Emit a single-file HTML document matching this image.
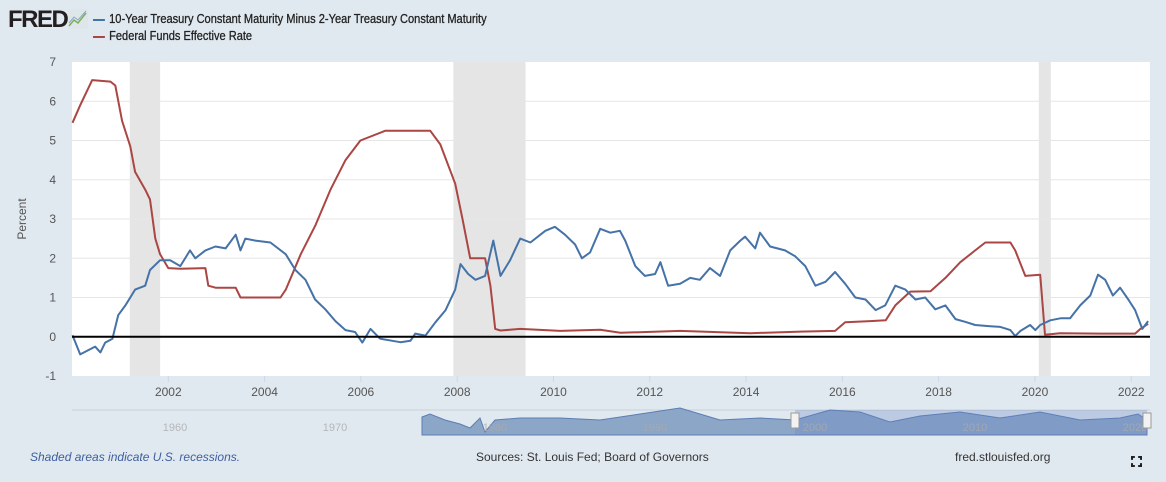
<!DOCTYPE html>
<html><head><meta charset="utf-8"><style>
body{margin:0;background:#e1e9f0;font-family:"Liberation Sans",sans-serif;}
#wrap{position:relative;width:1166px;height:482px;overflow:hidden;background:#e1e9f0}
.t{position:absolute;white-space:nowrap}
.lg{transform-origin:0 0;transform:scaleX(0.85);font-size:13px;color:#222;-webkit-text-stroke:0.3px #222}
</style></head><body>
<div id="wrap">
<div class="t" style="left:8px;top:6px;font:bold 24px 'Liberation Sans',sans-serif;color:#231f20;letter-spacing:-1.5px">FRED</div>
<svg style="position:absolute;left:68px;top:9px" width="20" height="20"><rect width="20" height="20" fill="#dfe6ea"/><polyline points="1,17 6,11 10,14 18,4" fill="none" stroke="#7ab05a" stroke-width="1.5"/><polyline points="1,14 6,8 10,11 18,2" fill="none" stroke="#8aa6c8" stroke-width="1"/></svg>
<div class="t lg" style="left:93px;top:11px"><span style="display:inline-block;width:14px;height:2px;background:#4572a7;vertical-align:middle;margin-right:5px"></span>10-Year Treasury Constant Maturity Minus 2-Year Treasury Constant Maturity</div>
<div class="t lg" style="left:93px;top:28px"><span style="display:inline-block;width:14px;height:2px;background:#aa4643;vertical-align:middle;margin-right:5px"></span>Federal Funds Effective Rate</div>
<svg id="chart" width="1166" height="482" style="position:absolute;left:0;top:0"></svg>
<div class="t" style="left:30px;top:450px;font-size:12px;font-style:italic;color:#3e5f9e">Shaded areas indicate U.S. recessions.</div>
<div class="t" style="left:476px;top:450px;font-size:12px;color:#333">Sources: St. Louis Fed; Board of Governors</div>
<div class="t" style="left:955px;top:450px;font-size:12px;color:#333">fred.stlouisfed.org</div>
<div class="t" style="left:1131px;top:456px;width:11px;height:11px;border:2px solid #222;box-sizing:border-box;clip-path:polygon(0 0,35% 0,35% 35%,65% 35%,65% 0,100% 0,100% 35%,65% 35%,65% 65%,100% 65%,100% 100%,65% 100%,65% 65%,35% 65%,35% 100%,0 100%,0 65%,35% 65%,35% 35%,0 35%)"></div>
</div>
<script>
const yTicks=[-1,0,1,2,3,4,5,6,7];
const xTicks=[2002,2004,2006,2008,2010,2012,2014,2016,2018,2020,2022];
const recessions=[[2001.2,2001.83],[2007.92,2009.42],[2020.08,2020.33]];
const ffDates=[2000.01,2000.17,2000.42,2000.80,2000.90,2001.04,2001.21,2001.31,2001.52,2001.62,2001.73,2001.83,2002.00,2002.25,2002.77,2002.83,2002.98,2003.40,2003.50,2004.33,2004.44,2004.75,2005.06,2005.37,2005.68,2005.99,2006.51,2007.44,2007.65,2007.96,2008.11,2008.27,2008.58,2008.69,2008.79,2008.90,2009.31,2010.14,2010.97,2011.39,2012.63,2014.09,2015.13,2015.85,2016.06,2016.58,2016.90,2017.10,2017.41,2017.83,2018.14,2018.45,2018.76,2018.97,2019.49,2019.59,2019.80,2020.11,2020.21,2020.52,2021.36,2022.08,2022.19,2022.35];
const ffValues=[5.45,5.9,6.54,6.5,6.4,5.5,4.85,4.2,3.75,3.5,2.5,2.1,1.75,1.73,1.75,1.3,1.25,1.25,1.0,1.0,1.2,2.1,2.85,3.75,4.5,5.0,5.25,5.25,4.9,3.9,3.0,2.0,2.0,1.3,0.2,0.16,0.2,0.15,0.18,0.1,0.15,0.09,0.13,0.15,0.37,0.4,0.42,0.8,1.15,1.16,1.5,1.9,2.2,2.4,2.4,2.2,1.55,1.58,0.05,0.09,0.08,0.08,0.2,0.33];
const spDates=[2000.01,2000.17,2000.48,2000.59,2000.69,2000.84,2000.96,2001.11,2001.31,2001.52,2001.62,2001.83,2002.04,2002.25,2002.45,2002.56,2002.77,2002.98,2003.19,2003.40,2003.50,2003.60,2003.81,2004.12,2004.44,2004.64,2004.85,2005.05,2005.26,2005.47,2005.68,2005.88,2006.03,2006.20,2006.40,2006.82,2007.03,2007.13,2007.34,2007.55,2007.76,2007.96,2008.07,2008.23,2008.38,2008.58,2008.75,2008.90,2009.10,2009.31,2009.52,2009.83,2010.03,2010.24,2010.45,2010.59,2010.76,2010.97,2011.18,2011.38,2011.49,2011.70,2011.90,2012.11,2012.22,2012.38,2012.63,2012.84,2013.04,2013.25,2013.46,2013.67,2013.88,2013.98,2014.19,2014.29,2014.50,2014.81,2015.02,2015.23,2015.44,2015.65,2015.85,2016.06,2016.27,2016.48,2016.69,2016.89,2017.10,2017.31,2017.52,2017.72,2017.93,2018.14,2018.35,2018.55,2018.76,2019.07,2019.28,2019.49,2019.59,2019.70,2019.90,2020.01,2020.11,2020.32,2020.53,2020.73,2020.94,2021.15,2021.31,2021.46,2021.62,2021.77,2021.94,2022.08,2022.23,2022.35];
const spValues=[0.04,-0.45,-0.25,-0.4,-0.15,-0.05,0.55,0.8,1.2,1.3,1.7,1.95,1.95,1.8,2.2,2.0,2.2,2.3,2.25,2.6,2.2,2.5,2.45,2.4,2.1,1.7,1.45,0.95,0.7,0.4,0.17,0.12,-0.15,0.2,-0.05,-0.14,-0.1,0.08,0.03,0.37,0.68,1.2,1.85,1.6,1.45,1.55,2.45,1.55,1.95,2.5,2.4,2.7,2.8,2.6,2.35,2.0,2.15,2.75,2.65,2.7,2.45,1.8,1.55,1.6,1.9,1.3,1.35,1.5,1.45,1.75,1.55,2.2,2.45,2.55,2.25,2.65,2.3,2.2,2.05,1.8,1.3,1.4,1.65,1.35,1.0,0.95,0.68,0.8,1.3,1.2,0.95,1.0,0.7,0.8,0.45,0.38,0.3,0.27,0.25,0.17,0.02,0.15,0.3,0.17,0.3,0.42,0.47,0.47,0.8,1.05,1.58,1.45,1.05,1.25,0.95,0.68,0.2,0.4];
const navTicks=[1960,1970,1980,1990,2000,2010,2020];

const NS="http://www.w3.org/2000/svg";
const svg=document.getElementById('chart');
const L=72,R=1150,T=62,B=376,X0=2000,X1=2022.39;
const x=d=>L+(d-X0)/(X1-X0)*(R-L);
const y=v=>T+(7-v)/8*(B-T);
function mk(tag,attrs,parent){const e=document.createElementNS(NS,tag);for(const k in attrs)e.setAttribute(k,attrs[k]);(parent||svg).appendChild(e);return e;}
let bg=mk('rect',{x:L,y:T,width:R-L,height:B-T,fill:'#fff'});


recessions.forEach(r=>{const e=mk('rect',{x:x(r[0]),y:T,width:x(r[1])-x(r[0]),height:B-T,fill:'#e5e5e5'});

});
yTicks.forEach(v=>{
 if(v!==0&&v!==-1&&v!==7){const g=mk('line',{x1:L,x2:R,y1:y(v),y2:y(v),stroke:'#e6e6e6','stroke-width':1});
 
 }
 const t=mk('text',{x:56,y:y(v)+4,'text-anchor':'end','font-size':12,fill:'#555','font-family':'Liberation Sans'});t.textContent=v;
 
 
});
xTicks.forEach(d=>{
 const l=mk('line',{x1:x(d),x2:x(d),y1:B,y2:B+6,stroke:'#ccd6eb'});
 
 
 const t=mk('text',{x:x(d),y:B+20,'text-anchor':'middle','font-size':12,fill:'#555','font-family':'Liberation Sans'});t.textContent=d;
 
 
});
const yt=mk('text',{x:0,y:0,transform:`translate(26,${(T+B)/2}) rotate(-90)`,'text-anchor':'middle','font-size':12,fill:'#555','font-family':'Liberation Sans'});yt.textContent='Percent';


function line(ds,vs,col,name){const p=mk('polyline',{points:ds.map((d,i)=>x(d).toFixed(1)+','+y(vs[i]).toFixed(1)).join(' '),fill:'none',stroke:col,'stroke-width':2,'stroke-linejoin':'round'});
 
 }
line(ffDates,ffValues,'#aa4643','fedfunds-line');
line(spDates,spValues,'#4572a7','spread-line');
const zl=mk('line',{x1:L,x2:R,y1:y(0),y2:y(0),stroke:'#000','stroke-width':2});


// navigator
const nb=mk('line',{x1:L,x2:R,y1:410,y2:410,stroke:'#ccd0d6'});


const nx=d=>175+(d-1960)*16;
const na=mk('path',{d:'M422,435 L422,417 L430,414 L445,420 L460,424 L470,428 L480,418 L485,432 L495,420 L520,418 L560,418 L600,420 L640,414 L680,408 L720,420 L760,418 L795,420 L830,410 L860,412 L890,422 L920,416 L960,412 L1000,418 L1040,412 L1080,420 L1120,418 L1138,414 L1147,420 L1147,435 Z',fill:'#8ca6c8',stroke:'#5b7db3','stroke-width':1});


const sel=mk('rect',{x:795,y:410,width:352,height:25,fill:'rgba(102,133,194,0.3)'});


navTicks.forEach(d=>{const t=mk('text',{x:nx(d),y:431,'text-anchor':'middle','font-size':11,fill:'#aaa','fill-opacity':0.8,'font-family':'Liberation Sans'});t.textContent=d;
 
 });
[795,1147].forEach(hx=>{const h=mk('rect',{x:hx-4,y:413,width:8,height:15,fill:'#f2f2f2',stroke:'#999'});
 
 });
</script>
</body></html>
